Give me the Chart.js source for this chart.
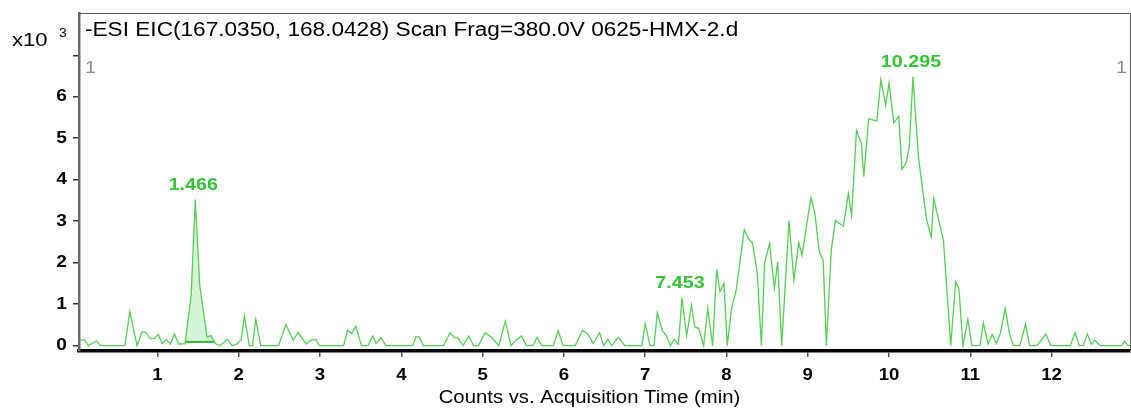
<!DOCTYPE html>
<html>
<head>
<meta charset="utf-8">
<script src="https://cdn.jsdelivr.net/npm/chart.js@4/dist/chart.umd.min.js"></script>
<style>
  html, body { margin: 0; padding: 0; background: #fff; }
  #wrap { width: 1131px; height: 414px; position: relative; }
</style>
</head>
<body>
<div id="wrap"><canvas id="c" width="1131" height="414"></canvas></div>
<script>
// Extracted ion chromatogram, counts in units of 10^3
const times = [
  0.04, 0.10, 0.15, 0.25, 0.30, 0.60, 0.66, 0.75, 0.81, 0.86, 0.91, 0.96, 1.01, 1.06, 1.11, 1.16, 1.21, 1.26,
  1.34, 1.415, 1.466, 1.52, 1.61, 1.66, 1.71, 1.77, 1.86, 1.92, 1.97, 2.03, 2.07, 2.13, 2.17, 2.21, 2.27,
  2.49, 2.58, 2.67, 2.73, 2.83, 2.89, 2.95, 2.99, 3.29, 3.34, 3.39, 3.44, 3.51, 3.59, 3.65, 3.69, 3.75, 3.81,
  4.14, 4.18, 4.22, 4.27, 4.52, 4.60, 4.66, 4.70, 4.76, 4.83, 4.89, 4.95, 5.03, 5.11, 5.20, 5.28, 5.35, 5.42,
  5.48, 5.54, 5.62, 5.67, 5.73, 5.87, 5.93, 5.99, 6.14, 6.23, 6.30, 6.36, 6.44, 6.49, 6.54, 6.59, 6.67, 6.75,
  6.96, 7.00, 7.06, 7.11, 7.15, 7.21, 7.26, 7.31, 7.36, 7.41, 7.453, 7.51, 7.57, 7.61, 7.66, 7.72, 7.77, 7.83,
  7.88, 7.92, 7.97, 8.01, 8.06, 8.12, 8.22, 8.27, 8.32, 8.38, 8.43, 8.47, 8.53, 8.59, 8.63, 8.68, 8.77, 8.83,
  8.89, 8.93, 9.04, 9.09, 9.14, 9.19, 9.23, 9.29, 9.34, 9.44, 9.50, 9.54, 9.60, 9.66, 9.69, 9.75, 9.85, 9.90,
  9.96, 10.00, 10.06, 10.12, 10.16, 10.21, 10.25, 10.295, 10.36, 10.46, 10.52, 10.55, 10.67, 10.76, 10.82,
  10.86, 10.91, 10.97, 11.02, 11.12, 11.16, 11.22, 11.27, 11.32, 11.37, 11.43, 11.48, 11.53, 11.61, 11.68,
  11.73, 11.82, 11.93, 11.99, 12.23, 12.29, 12.34, 12.39, 12.44, 12.49, 12.53, 12.60, 12.86, 12.90, 12.94, 12.965
];
const counts = [
  0.12, 0.15, 0, 0.11, 0, 0, 0.81, 0, 0.33, 0.32, 0.17, 0.17, 0.27, 0.05, 0.15, 0.04, 0.28, 0.04,
  0.05, 1.22, 3.52, 1.46, 0.21, 0.24, 0.05, 0, 0.15, 0, 0.03, 0.13, 0.71, 0, 0, 0.63, 0,
  0, 0.51, 0.13, 0.32, 0.04, 0.13, 0.15, 0, 0, 0.37, 0.29, 0.47, 0, 0, 0.23, 0.05, 0.20, 0,
  0, 0.21, 0.21, 0, 0, 0.31, 0.19, 0.18, 0, 0.23, 0, 0, 0.31, 0.20, 0, 0.59, 0, 0.15,
  0.23, 0, 0, 0.20, 0, 0, 0.36, 0, 0, 0.37, 0.27, 0.05, 0.31, 0, 0.15, 0, 0.20, 0,
  0, 0.53, 0, 0, 0.79, 0.36, 0.25, 0, 0.15, 0.03, 1.15, 0.23, 0.98, 0.45, 0.41, 0, 0.90, 0,
  1.84, 1.30, 1.50, 0, 0.86, 1.34, 2.80, 2.58, 2.48, 1.74, 0, 2.00, 2.46, 1.38, 2.02, 0, 3.01, 1.58,
  2.48, 2.18, 3.57, 3.17, 2.28, 2.06, 0, 2.30, 3.02, 2.88, 3.67, 3.14, 5.18, 4.89, 4.07, 5.47, 5.41, 6.41,
  5.80, 6.33, 5.37, 5.53, 4.25, 4.40, 4.81, 6.48, 4.59, 3.06, 2.62, 3.55, 2.54, 0, 1.54,
  1.38, 0, 0.63, 0, 0, 0.55, 0.04, 0.27, 0.05, 0.29, 0.90, 0.31, 0, 0, 0.52,
  0, 0, 0.28, 0, 0, 0.31, 0, 0, 0.28, 0.03, 0.13, 0, 0, 0.11, 0, 0
];

// Labelled peak apexes (retention time, min)
const peakTimes = [1.466, 7.453, 10.295];
const peakLabels = ['1.466', '7.453', '10.295'];

// Integrated peak window and its baseline
const integStart = 1.34;
const integEnd = 1.71;
const integBase = 0.09;

const xTickValues = [1, 2, 3, 4, 5, 6, 7, 8, 9, 10, 11, 12];
const yTickValues = [0, 1, 2, 3, 4, 5, 6];
const yMinorMark = 7;

const titleText = '-ESI EIC(167.0350, 168.0428) Scan Frag=380.0V 0625-HMX-2.d';
const xAxisTitle = 'Counts vs. Acquisition Time (min)';

const FONT = '"Liberation Sans", Arial, sans-serif';
const LINE_GREEN = '#55cf55';
const LABEL_GREEN = '#33c433';
const SX = 1.16; // glyph widening used for every text item

const mainPoints = times.map((t, i) => ({ x: t, y: counts[i] }));
const peakPoints = mainPoints.filter(p => p.x >= integStart && p.x <= integEnd);
const basePoints = [{ x: integStart, y: integBase }, { x: integEnd, y: integBase }];

function wideText(ctx, str, x, y, font, color, align, baseline) {
  ctx.save();
  ctx.font = font;
  ctx.fillStyle = color;
  ctx.textAlign = align;
  ctx.textBaseline = baseline;
  ctx.translate(x, y);
  ctx.scale(SX, 1);
  ctx.fillText(str, 0, 0);
  ctx.restore();
}

const overlay = {
  id: 'overlay',
  afterDraw(chart) {
    const { ctx, chartArea: a, scales } = chart;
    ctx.save();
    // frame around the trace
    ctx.strokeStyle = '#555';
    ctx.lineWidth = 1;
    ctx.beginPath();
    ctx.moveTo(a.left, a.top + 0.5);
    ctx.lineTo(a.right + 0.5, a.top + 0.5);
    ctx.lineTo(a.right + 0.5, a.bottom);
    ctx.stroke();
    ctx.restore();

    wideText(ctx, titleText, a.left + 6, 31, '19.5px ' + FONT, '#000', 'left', 'middle');
    wideText(ctx, 'x10', 12, 41, '19px ' + FONT, '#000', 'left', 'middle');
    wideText(ctx, '3', 59, 34, '12px ' + FONT, '#000', 'left', 'middle');
    wideText(ctx, '1', a.left + 6, 68, '17px ' + FONT, '#8a8a8a', 'left', 'middle');
    wideText(ctx, '1', a.right - 3, 68, '17px ' + FONT, '#8a8a8a', 'right', 'middle');

    // tick labels
    xTickValues.forEach(v => {
      wideText(ctx, String(v), scales.x.getPixelForValue(v), 376, 'bold 16px ' + FONT, '#000', 'center', 'middle');
    });
    yTickValues.forEach(v => {
      wideText(ctx, String(v), 67, scales.y.getPixelForValue(v), 'bold 16.5px ' + FONT, '#000', 'right', 'middle');
    });
    wideText(ctx, xAxisTitle, (a.left + a.right) / 2 - 15, 398, '17.5px ' + FONT, '#000', 'center', 'middle');

    // peak apex labels
    peakTimes.forEach((t, k) => {
      const i = times.indexOf(t);
      const px = scales.x.getPixelForValue(t) - 2;
      const py = scales.y.getPixelForValue(counts[i]) - 6;
      wideText(ctx, peakLabels[k], px, py, 'bold 17px ' + FONT, LABEL_GREEN, 'center', 'bottom');
    });
  }
};

new Chart(document.getElementById('c'), {
  type: 'scatter',
  data: {
    datasets: [
      {
        data: peakPoints,
        showLine: true,
        borderWidth: 0,
        borderColor: 'rgba(0,0,0,0)',
        backgroundColor: '#d6f4d6',
        pointRadius: 0,
        fill: { value: integBase },
        order: 3
      },
      {
        data: basePoints,
        showLine: true,
        borderColor: '#2fb52f',
        borderWidth: 2,
        pointRadius: 0,
        fill: false,
        order: 2
      },
      {
        data: mainPoints,
        showLine: true,
        borderColor: LINE_GREEN,
        borderWidth: 1.3,
        pointRadius: 0,
        fill: false,
        tension: 0,
        order: 1
      }
    ]
  },
  options: {
    responsive: false,
    animation: false,
    devicePixelRatio: 1,
    layout: { padding: { top: 13, right: 1, left: 0, bottom: 0 } },
    plugins: { legend: { display: false }, tooltip: { enabled: false } },
    scales: {
      x: {
        type: 'linear',
        min: 0.035,
        max: 12.965,
        afterFit(s) { s.height = 63; },
        afterBuildTicks(s) { s.ticks = xTickValues.map(v => ({ value: v })); },
        ticks: { display: false },
        grid: { drawOnChartArea: false, drawTicks: true, tickLength: 6, color: '#555', lineWidth: 1.5 },
        border: { color: '#000', width: 3.5 }
      },
      y: {
        type: 'linear',
        min: -0.13,
        max: 8.02,
        afterFit(s) { s.width = 79; },
        afterBuildTicks(s) { s.ticks = [...yTickValues, yMinorMark].map(v => ({ value: v })); },
        ticks: { display: false },
        grid: { drawOnChartArea: false, drawTicks: true, tickLength: 6, color: '#333', lineWidth: 1.5 },
        border: { color: '#6a6a6a', width: 2.5 }
      }
    }
  },
  plugins: [overlay]
});
</script>
</body>
</html>
